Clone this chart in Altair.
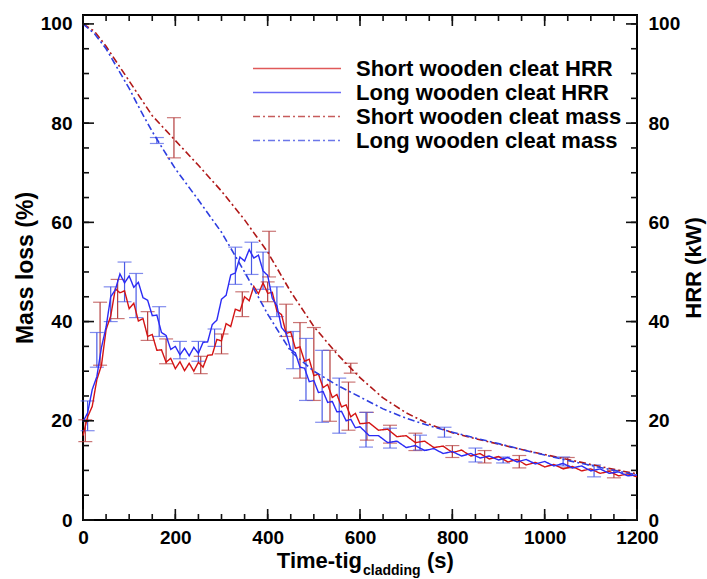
import altair as alt
import pandas as pd

# ---------------- data ----------------
T_HRR = list(range(0, 601, 10)) + list(range(620, 1201, 20))

short_hrr = [17.0, 20.8, 22.9, 28.3, 31.2, 38.4, 41.1, 46.6, 45.8, 46.2,
             42.6, 43.7, 40.1, 40.6, 37.0, 37.4, 34.2, 34.3, 31.8, 32.6,
             30.5, 31.9, 30.1, 31.6, 30.0, 31.8, 30.8, 33.2, 33.3, 36.4,
             36.1, 39.6, 39.0, 42.5, 42.1, 45.0, 44.2, 47.1, 45.6, 47.8,
             45.7, 45.9, 42.1, 41.4, 37.6, 37.9, 34.6, 34.9, 32.0, 32.4,
             29.1, 29.4, 26.7, 27.3, 24.7, 25.3, 22.8, 23.2, 20.8, 21.5,
             19.4,
             19.6, 18.1, 18.3, 16.8, 17.0, 15.6, 15.9, 14.6, 14.9, 13.6,
             14.1, 12.9, 13.4, 12.3, 12.8, 11.7, 12.2, 11.1, 11.6, 10.7,
             11.2, 10.3, 10.8, 9.9, 10.3, 9.4, 9.8, 8.9, 9.3, 8.7]

long_hrr = [19.8, 21.6, 26.3, 28.9, 34.8, 38.9, 45.0, 46.4, 49.6, 47.8,
            49.2, 46.9, 47.9, 44.8, 44.3, 41.2, 41.3, 37.8, 37.2, 34.4,
            35.0, 33.3, 34.6, 33.1, 34.8, 33.6, 35.8, 35.9, 39.4, 40.3,
            44.5, 45.3, 49.4, 49.8, 53.0, 52.2, 54.5, 52.8, 53.4, 50.2,
            49.3, 44.7, 43.2, 38.8, 37.7, 34.3, 33.7, 30.8, 30.6, 27.9,
            28.1, 25.7, 25.9, 23.7, 23.9, 21.8, 21.9, 20.0, 20.3, 18.6,
            18.8,
            17.0, 17.0, 15.6, 15.9, 14.6, 15.0, 14.0, 14.4, 13.4, 13.8,
            12.9, 13.4, 12.5, 12.9, 12.1, 12.6, 11.7, 12.2, 11.3, 11.8,
            10.9, 11.4, 10.5, 10.9, 9.9, 10.3, 9.4, 9.7, 8.9, 9.1]

T_MASS = [0, 25, 50, 75, 100, 125, 150, 175, 200, 250, 300, 350, 400, 450,
          500, 550, 600, 650, 700, 750, 800, 850, 900, 950, 1000, 1050,
          1100, 1150, 1200]
short_mass = [100, 98.5, 95.5, 92, 88.5, 85, 81.5, 79, 76.5, 71.5, 66.3,
              60.5, 54, 46, 39, 33.5, 28.7, 24.6, 21.6, 19.3, 17.6, 16.4,
              15.3, 14.2, 13.2, 12.2, 11.2, 10.2, 9.3]
long_mass = [100, 98, 95, 91, 87, 82.5, 78.3, 74.5, 70.8, 64.5, 58, 50,
             41.5, 34, 30, 27.2, 24.8, 22.4, 20.5, 19, 17.7, 16.5, 15.4,
             14.2, 13.1, 12, 11, 10, 9.1]

# error bars (time, low, high)
short_err_t = [5, 37, 75, 140, 180, 197, 255, 300, 345, 403, 400, 440, 470,
               500, 535, 575, 580, 615, 665, 720, 800, 870, 945, 1050, 1150]
short_err_lo = [15.8, 31.2, 40.6, 36.2, 31.5, 73.0, 29.5, 33.5, 41.0, 49.0,
                44.0, 37.0, 28.6, 24.1, 19.9, 18.1, 29.6, 16.1, 15.5, 14.0,
                12.6, 11.5, 10.5, 10.5, 8.5]
short_err_hi = [20.2, 43.9, 48.5, 42.0, 36.5, 81.1, 33.0, 37.5, 46.0, 58.2,
                48.0, 43.5, 39.8, 38.8, 34.2, 27.8, 31.6, 21.7, 19.1, 17.5,
                15.0, 14.0, 13.0, 12.6, 10.0]

long_err_t = [10, 30, 60, 90, 115, 160, 165, 210, 250, 285, 330, 365, 390,
              420, 455, 483, 518, 555, 613, 665, 730, 783, 850, 910, 1040,
              1107]
long_err_lo = [18.0, 30.8, 40.0, 44.0, 40.8, 75.9, 37.0, 32.5, 32.0, 35.0,
               47.5, 49.5, 46.5, 41.0, 30.5, 24.1, 19.7, 17.5, 14.7, 14.5,
               14.1, 16.7, 11.7, 11.5, 10.9, 8.7]
long_err_hi = [24.0, 37.8, 47.0, 52.0, 49.7, 77.1, 43.0, 36.0, 36.0, 38.5,
               55.0, 56.0, 54.0, 47.0, 38.0, 36.6, 34.2, 28.6, 21.7, 18.5,
               17.1, 18.7, 14.5, 12.7, 12.7, 11.1]

SERIES = ["Short wooden cleat HRR", "Long wooden cleat HRR",
          "Short wooden cleat mass", "Long wooden cleat mass"]
COLORS = ["#d41414", "#2b2bf5", "#b01818", "#2e3ee0"]
DASHES = [[1, 0], [1, 0], [7, 3, 2, 3], [7, 3, 2, 3]]
ERR_COLORS = ["#b43c3c", "#4a5ae6"]
FRAME_COLOR = "#111111"

X_TICKS = [0, 200, 400, 600, 800, 1000, 1200]
Y_TICKS = [0, 20, 40, 60, 80, 100]
X_MINOR = [0, 50, 100, 150, 200, 250, 300, 350, 400, 450, 500, 550, 600,
           650, 700, 750, 800, 850, 900, 950, 1000, 1050, 1100, 1150, 1200]
Y_MINOR = [0, 5, 10, 15, 20, 25, 30, 35, 40, 45, 50, 55, 60, 65, 70, 75,
           80, 85, 90, 95, 100]

W, H = 554, 505
X_MAX, Y_MAX = 1200, 101.8
FONT = "Liberation Sans"
MAJ, MIN = 11, 6  # tick lengths in pixels
YPX = Y_MAX / H   # data units per pixel
XPX = X_MAX / W

# ---------------- tables ----------------
hrr_df = pd.concat([
    pd.DataFrame({"t": T_HRR, "v": short_hrr, "series": SERIES[0]}),
    pd.DataFrame({"t": T_HRR, "v": long_hrr, "series": SERIES[1]}),
])
mass_df = pd.concat([
    pd.DataFrame({"t": T_MASS, "v": short_mass, "series": SERIES[2]}),
    pd.DataFrame({"t": T_MASS, "v": long_mass, "series": SERIES[3]}),
])
err_df = pd.concat([
    pd.DataFrame({"t": short_err_t, "lo": short_err_lo, "hi": short_err_hi, "c": ERR_COLORS[0]}),
    pd.DataFrame({"t": long_err_t, "lo": long_err_lo, "hi": long_err_hi, "c": ERR_COLORS[1]}),
])
cap_df = pd.concat([
    err_df[["t", "lo", "c"]].rename(columns={"lo": "v"}),
    err_df[["t", "hi", "c"]].rename(columns={"hi": "v"}),
])

# inward frame ticks drawn as two-point line segments (one id per tick)
seg_rows = []
k = 0
for vals, ln in ((X_MINOR, MIN), (X_TICKS, MAJ)):
    for p in vals:
        for base, d in ((0.0, 1), (Y_MAX, -1)):
            seg_rows.append({"id": k, "o": 0, "sx": p, "sy": base})
            seg_rows.append({"id": k, "o": 1, "sx": p, "sy": base + d * ln * YPX})
            k += 1
for vals, ln in ((Y_MINOR, MIN), (Y_TICKS, MAJ)):
    for p in vals:
        for base, d in ((0.0, 1), (X_MAX, -1)):
            seg_rows.append({"id": k, "o": 0, "sx": base, "sy": p})
            seg_rows.append({"id": k, "o": 1, "sx": base + d * ln * XPX, "sy": p})
            k += 1
seg_df = pd.DataFrame(seg_rows)

xs = alt.Scale(domain=[0, X_MAX], nice=False, zero=False)
ys = alt.Scale(domain=[0, Y_MAX], nice=False, zero=False)

frame_ticks = alt.Chart(seg_df).mark_line(color=FRAME_COLOR, strokeWidth=1.6).encode(
    x=alt.X("sx:Q", scale=xs, axis=None),
    y=alt.Y("sy:Q", scale=ys, axis=None),
    detail="id:N",
    order="o:Q",
)

lab = dict(labelFont=FONT, labelFontSize=19, labelFontWeight="bold",
           labelColor="black", grid=False, domain=False, ticks=False, format="d")

legend = alt.Legend(orient="none", legendX=169, legendY=44, title=None,
                    symbolType="stroke", symbolSize=7744, symbolStrokeWidth=1.5,
                    labelFont=FONT, labelFontSize=22, labelFontWeight="bold",
                    labelColor="black", labelOffset=14, clipHeight=19,
                    rowPadding=1, padding=0, labelLimit=400)
color = alt.Color("series:N", scale=alt.Scale(domain=SERIES, range=COLORS), legend=legend)
dash = alt.StrokeDash("series:N", scale=alt.Scale(domain=SERIES, range=DASHES), legend=legend)

err_rules = alt.Chart(err_df).mark_rule(strokeWidth=1.2).encode(
    x=alt.X("t:Q", scale=xs, axis=None),
    y=alt.Y("lo:Q", scale=ys, axis=None),
    y2="hi:Q",
    color=alt.Color("c:N", scale=None),
)
caps = alt.Chart(cap_df).mark_tick(orient="horizontal", size=14, thickness=1.2).encode(
    x=alt.X("t:Q", scale=xs, axis=None),
    y=alt.Y("v:Q", scale=ys, axis=None),
    color=alt.Color("c:N", scale=None),
)
hrr_lines = alt.Chart(hrr_df).mark_line(strokeWidth=1.4).encode(
    x=alt.X("t:Q", scale=xs, axis=alt.Axis(orient="bottom", values=X_TICKS,
                                           labelPadding=8, title=None, labelFlush=False, **lab)),
    y=alt.Y("v:Q", scale=ys, axis=alt.Axis(orient="left", values=Y_TICKS, labelPadding=11,
                                           title="Mass loss (%)", titleFont=FONT,
                                           titleFontSize=23, titleFontWeight="bold",
                                           titleColor="black", titlePadding=3, **lab)),
    color=color,
    strokeDash=dash,
)
mass_lines = alt.Chart(mass_df).mark_line(strokeWidth=1.6).encode(
    x=alt.X("t:Q", scale=xs, axis=None),
    y=alt.Y("v:Q", scale=ys, axis=alt.Axis(orient="right", values=Y_TICKS, labelPadding=11,
                                           title="HRR (kW)", titleFont=FONT,
                                           titleFontSize=22, titleFontWeight="bold",
                                           titleColor="black", titlePadding=26,
                                           titleAngle=270, **lab)),
    color=color,
    strokeDash=dash,
)

title_df = pd.DataFrame({"a": [0]})
t_main = alt.Chart(title_df).mark_text(text="Time-tig", font=FONT, fontSize=22,
                                       fontWeight="bold", align="right",
                                       baseline="alphabetic", color="black").encode(
    x=alt.value(279), y=alt.value(553))
t_sub = alt.Chart(title_df).mark_text(text="cladding", font=FONT, fontSize=14,
                                      fontWeight="bold", align="left",
                                      baseline="alphabetic", color="black").encode(
    x=alt.value(280), y=alt.value(560))
t_unit = alt.Chart(title_df).mark_text(text="(s)", font=FONT, fontSize=22,
                                       fontWeight="bold", align="left",
                                       baseline="alphabetic", color="black").encode(
    x=alt.value(344), y=alt.value(553))

chart = alt.layer(
    err_rules, caps, hrr_lines, mass_lines, frame_ticks, t_main, t_sub, t_unit
).resolve_axis(x="independent", y="independent").properties(
    width=W, height=H,
    autosize=alt.AutoSizeParams(type="none"),
    padding={"left": 83, "top": 15, "right": 70, "bottom": 59},
    background="white",
).configure_view(stroke="black", strokeWidth=2)

chart.save("out.html", embed_options={"renderer": "svg", "actions": False})
